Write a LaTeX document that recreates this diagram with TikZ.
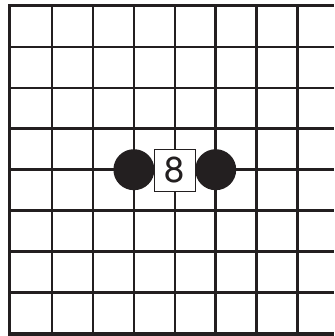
\documentclass[tikz,border=0pt]{standalone}
\usepackage{fontspec}
\newfontfamily\boardfont{TeX Gyre Heros}
\definecolor{ink}{HTML}{231F20}

\begin{document}
\begin{tikzpicture}[x=1pt,y=-1pt,
  gridline/.style={draw=ink,line width=2.6pt},
  edgeline/.style={draw=ink,line width=3.3pt,line join=miter},
  stone/.style={circle,fill=ink,minimum size=41pt,inner sep=0pt},
  movebox/.style={rectangle,draw=ink,fill=white,line width=0.9pt,
                  minimum size=41.5pt,inner sep=0pt,text=ink,
                  font=\boardfont\fontsize{36}{36}\selectfont},
]
\useasboundingbox (0,0) rectangle (334,336);
\clip (0,0) rectangle (334,336);

% Inner lines
\foreach \i in {1,...,7}
  \draw[gridline] (11.2+40.9*\i,6) -- (11.2+40.9*\i,334);
\foreach \j in {1,...,7}
  \draw[gridline] (10,6.1+40.9*\j) -- (334,6.1+40.9*\j);

% Board edge
\draw[edgeline] (334,5.6) -- (9.8,5.6) -- (9.8,334) -- (334,334);

% Stones
\node[stone] (black1) at (133.9,169.7) {};
\node[stone] (black2) at (215.7,169.7) {};

% Move number
\node[movebox] (move8) at (174.8,170.5) {8};

\end{tikzpicture}
\end{document}
